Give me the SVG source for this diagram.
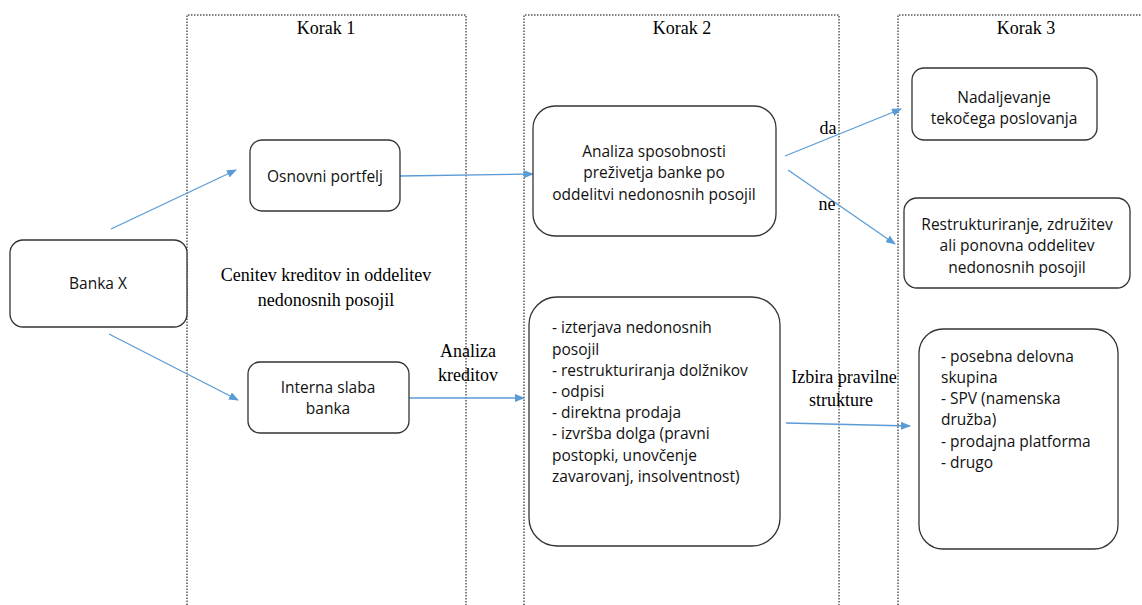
<svg xmlns="http://www.w3.org/2000/svg" width="1142" height="605" viewBox="0 0 1142 605">
<style>
.panel{fill:none;stroke:#000;stroke-width:1;stroke-dasharray:1.5 1.5}
.box{fill:#fff;stroke:#333;stroke-width:1.3}
.s{font-family:"Open Sans","Noto Sans",sans-serif;font-size:15.5px;fill:#111}
.c{text-anchor:middle}
.r{font-family:"Liberation Serif","Times New Roman",serif;font-size:18px;fill:#000}
.con{stroke:#5B9BD5;stroke-width:1.3;fill:none;marker-end:url(#ah)}
</style>
<defs>
<marker id="ah" markerWidth="10" markerHeight="8" refX="9" refY="4" orient="auto" markerUnits="userSpaceOnUse">
<path d="M0,0 L10,4 L0,8 Z" fill="#5B9BD5"/>
</marker>
</defs>
<rect width="1142" height="605" fill="#fff"/>
<g id="panels">
<path class="panel" d="M187,605 V15 H466 V605"/>
<path class="panel" d="M524,605 V15 H839 V605"/>
<path class="panel" d="M898,605 V15 H1150"/>
<text class="r c" x="326" y="34">Korak 1</text>
<text class="r c" x="682" y="34">Korak 2</text>
<text class="r c" x="1026" y="34">Korak 3</text>
</g>
<g id="connectors">
<line class="con" x1="111" y1="229" x2="236" y2="170"/>
<line class="con" x1="109" y1="334" x2="238" y2="400"/>
<line class="con" x1="400" y1="176" x2="533" y2="174"/>
<line class="con" x1="409" y1="398" x2="524" y2="398"/>
<line class="con" x1="785" y1="156" x2="901" y2="109"/>
<line class="con" x1="788" y1="170" x2="895" y2="244"/>
<line class="con" x1="786" y1="423" x2="910" y2="426"/>
<text class="r c" x="828" y="134">da</text>
<text class="r c" x="827" y="210">ne</text>
<text class="r c" x="468" y="357">Analiza</text>
<text class="r c" x="468" y="381">kreditov</text>
<text class="r c" x="844" y="383">Izbira pravilne</text>
<text class="r c" x="841" y="406">strukture</text>
<text class="r c" x="326" y="281">Cenitev kreditov in oddelitev</text>
<text class="r c" x="326" y="306">nedonosnih posojil</text>
</g>
<g id="banka">
<rect class="box" x="10" y="240" width="177" height="87" rx="13"/>
<text class="s c" x="98" y="289">Banka X</text>
</g>
<g id="osnovni">
<rect class="box" x="250" y="140" width="150" height="71" rx="12"/>
<text class="s c" x="325" y="182">Osnovni portfelj</text>
</g>
<g id="interna">
<rect class="box" x="248" y="362" width="161" height="71" rx="12"/>
<text class="s c" x="328" y="393">Interna slaba</text>
<text class="s c" x="328" y="414">banka</text>
</g>
<g id="analiza">
<rect class="box" x="533" y="106" width="243" height="130" rx="22"/>
<text class="s c" x="654" y="157">Analiza sposobnosti</text>
<text class="s c" x="654" y="178">preživetja banke po</text>
<text class="s c" x="654" y="200">oddelitvi nedonosnih posojil</text>
</g>
<g id="ukrepi">
<rect class="box" x="529" y="297" width="251" height="249" rx="28"/>
<text class="s" x="552" y="333">- izterjava nedonosnih</text>
<text class="s" x="552" y="355">posojil</text>
<text class="s" x="552" y="376">- restrukturiranja dolžnikov</text>
<text class="s" x="552" y="397">- odpisi</text>
<text class="s" x="552" y="418">- direktna prodaja</text>
<text class="s" x="552" y="439">- izvršba dolga (pravni</text>
<text class="s" x="552" y="461">postopki, unovčenje</text>
<text class="s" x="552" y="482">zavarovanj, insolventnost)</text>
</g>
<g id="nadaljevanje">
<rect class="box" x="912" y="68" width="185" height="72" rx="12"/>
<text class="s c" x="1004" y="103">Nadaljevanje</text>
<text class="s c" x="1004" y="124">tekočega poslovanja</text>
</g>
<g id="restrukturiranje">
<rect class="box" x="904" y="198" width="226" height="90" rx="13"/>
<text class="s c" x="1017" y="230">Restrukturiranje, združitev</text>
<text class="s c" x="1017" y="251">ali ponovna oddelitev</text>
<text class="s c" x="1017" y="273">nedonosnih posojil</text>
</g>
<g id="strukture">
<rect class="box" x="919" y="329" width="199" height="220" rx="24"/>
<text class="s" x="941" y="362">- posebna delovna</text>
<text class="s" x="941" y="383">skupina</text>
<text class="s" x="941" y="404">- SPV (namenska</text>
<text class="s" x="941" y="425">družba)</text>
<text class="s" x="941" y="447">- prodajna platforma</text>
<text class="s" x="941" y="468">- drugo</text>
</g>
</svg>
